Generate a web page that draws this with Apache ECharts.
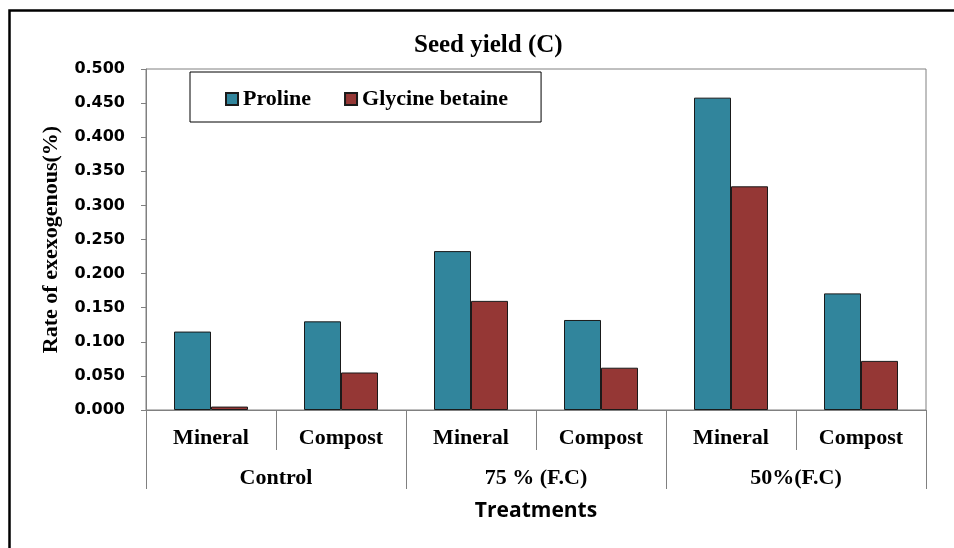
<!DOCTYPE html>
<head>
    <meta charset="utf-8">
    <title>Seed yield (C)</title>
    <script src="https://cdn.jsdelivr.net/npm/echarts@6/dist/echarts.min.js"></script>
    <style>
        html, body { margin: 0; padding: 0; background: #fff; }
    </style>
</head>
<body>
    <div id="chart" style="width:954px;height:548px"></div>
    <script type="text/javascript">
        // data
        var treatments = ['Mineral', 'Compost', 'Mineral', 'Compost', 'Mineral', 'Compost'];
        var groups = ['Control', '75 % (F.C)', '50%(F.C)'];
        var proline = [0.115, 0.130, 0.233, 0.132, 0.458, 0.171];
        var glycine = [0.005, 0.055, 0.160, 0.062, 0.328, 0.072];

        var serif = '"Liberation Serif", "Times New Roman", serif';
        var grey = '#808080';

        var myChart = echarts.init(document.getElementById('chart'));
        var option = {
            animation: false,
            backgroundColor: '#fff',
            title: {
                text: 'Seed yield (C)',
                left: 409,
                top: 28,
                textStyle: { fontFamily: serif, fontWeight: 'bold', fontSize: 25, color: '#000' }
            },
            graphic: [
                {
                    type: 'rect',
                    shape: { x: 9.5, y: 10.5, width: 1000, height: 1000 },
                    style: { fill: 'none', stroke: '#000', lineWidth: 2.5 },
                    silent: true
                }
            ],
            legend: {
                data: ['Proline', 'Glycine betaine'],
                left: 190,
                top: 72,
                orient: 'horizontal',
                borderColor: '#000',
                borderWidth: 1,
                padding: [16, 33, 12, 35],
                itemWidth: 12,
                itemHeight: 12,
                itemGap: 33,
                icon: 'rect',
                textStyle: { fontFamily: serif, fontWeight: 'bold', fontSize: 22, color: '#000' }
            },
            grid: {
                left: 146,
                right: 28,
                top: 69,
                bottom: 138,
                show: true,
                borderColor: grey,
                borderWidth: 1,
                containLabel: false
            },
            xAxis: [
                {
                    type: 'category',
                    data: treatments,
                    position: 'bottom',
                    axisLine: { show: true, lineStyle: { color: grey, width: 1 } },
                    axisTick: { show: true, interval: 0, length: 40, lineStyle: { color: grey, width: 1 } },
                    axisLabel: {
                        interval: 0,
                        margin: 17,
                        fontFamily: serif, fontWeight: 'bold', fontSize: 22, color: '#000'
                    },
                    name: 'Treatments',
                    nameLocation: 'middle',
                    nameGap: 91,
                    nameTextStyle: { fontFamily: '"Open Sans", sans-serif', fontWeight: 'bold', fontSize: 21, color: '#000' }
                },
                {
                    type: 'category',
                    data: groups,
                    position: 'bottom',
                    axisLine: { show: false },
                    axisTick: { show: true, interval: 0, length: 79, lineStyle: { color: grey, width: 1 } },
                    axisLabel: {
                        interval: 0,
                        margin: 57,
                        fontFamily: serif, fontWeight: 'bold', fontSize: 22, color: '#000'
                    }
                }
            ],
            yAxis: {
                type: 'value',
                min: 0,
                max: 0.5,
                interval: 0.05,
                axisLine: { show: true, lineStyle: { color: grey, width: 1 } },
                axisTick: { show: true, length: 5, lineStyle: { color: grey, width: 1 } },
                splitLine: { show: false },
                axisLabel: {
                    margin: 21,
                    formatter: function (v) { return v.toFixed(3); },
                    fontFamily: '"DejaVu Sans", sans-serif', fontWeight: 'bold', fontSize: 16, color: '#000'
                },
                name: 'Rate of exexogenous(%)',
                nameLocation: 'middle',
                nameGap: 84,
                nameTextStyle: { fontFamily: serif, fontWeight: 'bold', fontSize: 22, color: '#000' }
            },
            series: [
                {
                    name: 'Proline',
                    type: 'bar',
                    xAxisIndex: 0,
                    data: proline,
                    barWidth: 37,
                    barGap: '0%',
                    itemStyle: { color: '#31859C', borderColor: '#1a1a1a', borderWidth: 1 }
                },
                {
                    name: 'Glycine betaine',
                    type: 'bar',
                    xAxisIndex: 0,
                    data: glycine,
                    barWidth: 37,
                    barGap: '0%',
                    itemStyle: { color: '#953735', borderColor: '#1a1a1a', borderWidth: 1 }
                }
            ]
        };
        myChart.setOption(option);
    </script>
</body>
